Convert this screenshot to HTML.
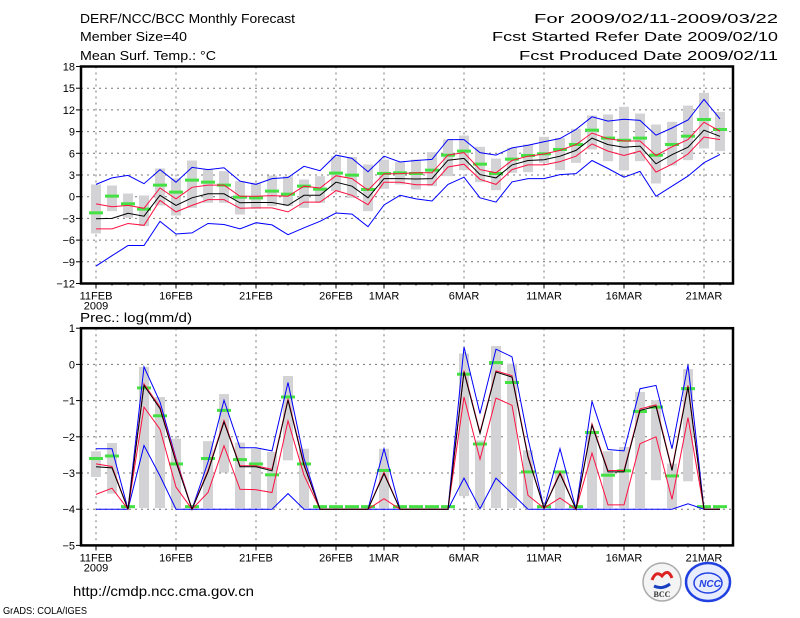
<!DOCTYPE html>
<html><head><meta charset="utf-8"><style>
html,body{margin:0;padding:0;background:#fff;}
svg{display:block;font-family:"Liberation Sans",sans-serif;}
</style></head><body>
<svg id="chart" width="800" height="618" viewBox="0 0 800 618" xmlns="http://www.w3.org/2000/svg">
<g font-size="13" fill="#000">
<text x="80" y="23" textLength="215" lengthAdjust="spacingAndGlyphs">DERF/NCC/BCC Monthly Forecast</text>
<text x="80" y="41" textLength="107" lengthAdjust="spacingAndGlyphs">Member Size=40</text>
<text x="80" y="60" textLength="136" lengthAdjust="spacingAndGlyphs">Mean Surf. Temp.: °C</text>
<text x="778" y="23" text-anchor="end" textLength="244" lengthAdjust="spacingAndGlyphs">For 2009/02/11-2009/03/22</text>
<text x="778" y="41" text-anchor="end" textLength="286" lengthAdjust="spacingAndGlyphs">Fcst Started Refer Date 2009/02/10</text>
<text x="778" y="60" text-anchor="end" textLength="259" lengthAdjust="spacingAndGlyphs">Fcst Produced Date 2009/02/11</text>
<text x="80" y="322" textLength="112" lengthAdjust="spacingAndGlyphs">Prec.: log(mm/d)</text>
<text x="73" y="596" font-size="14" textLength="181" lengthAdjust="spacingAndGlyphs">http://cmdp.ncc.cma.gov.cn</text>
<text x="3" y="614" font-size="10" textLength="84" lengthAdjust="spacingAndGlyphs">GrADS: COLA/IGES</text>
</g>
<g>
<circle cx="662" cy="582" r="19" fill="#f4f4f4" stroke="#aaa" stroke-width="1.5"/>
<path d="M652 580 q4 -10 10 -4 q6 -8 10 2" fill="none" stroke="#d22" stroke-width="3"/>
<path d="M654 586 q8 4 16 -2" fill="none" stroke="#1840c0" stroke-width="3"/>
<text x="662" y="597" font-size="8" font-weight="bold" text-anchor="middle" fill="#333" font-family="Liberation Serif,serif">BCC</text>
</g>
<g>
<ellipse cx="708" cy="582" rx="22" ry="19" fill="#e8ecff" stroke="#2040e0" stroke-width="2.5"/>
<ellipse cx="708" cy="583" rx="14" ry="10" fill="none" stroke="#2040e0" stroke-width="1.5"/>
<text x="710" y="587" font-size="10" font-weight="bold" text-anchor="middle" fill="#2040e0" font-style="italic">NCC</text>
</g>
</svg>
<script>
// ----- data (day index 0 = 11FEB 2009) -----
const dayLabels = ["11FEB","16FEB","21FEB","26FEB","1MAR","6MAR","11MAR","16MAR","21MAR"];
const dayLabelIdx = [0,5,10,15,18,23,28,33,38];
const tempTicks = [18,15,12,9,6,3,0,-3,-6,-9,-12];
const precTicks = [1,0,-1,-2,-3,-4,-5];

const tMean = [-3.05,-3.0,-2.3,-2.7,0.2,-1.2,-0.15,0.4,0.4,-0.85,-0.8,-0.8,-1.2,0.2,0.2,2.0,1.45,-0.15,2.5,2.5,2.45,2.5,5.05,5.3,3.05,2.6,4.4,5.0,5.1,5.6,6.4,8.1,7.2,6.85,7.0,4.55,5.8,6.85,9.2,8.35];
const tRedHi = [-1.0,-1.4,-1.2,-1.6,1.2,-0.3,1.3,1.6,1.6,0.05,0.05,0.15,0.05,1.45,1.2,2.9,2.5,0.9,3.15,3.2,3.3,3.3,5.75,6.1,3.75,3.3,5.0,5.6,5.9,6.4,7.2,8.8,8.0,7.7,7.7,5.7,6.9,7.9,10.3,9.05];
const tRedLo = [-4.45,-4.45,-3.7,-3.95,-0.5,-2.1,-1.2,-0.4,-0.4,-1.6,-1.55,-1.55,-2.1,-0.75,-0.75,0.85,0.2,-1.1,2.0,2.0,1.65,1.65,4.1,4.5,2.4,1.7,3.75,4.4,4.4,4.85,5.6,7.3,6.3,5.7,6.3,3.4,4.5,5.9,8.25,7.9];
const tBlueHi = [1.7,2.6,2.95,1.8,3.75,2.0,4.05,3.75,4.0,2.15,1.7,2.5,2.65,4.2,3.6,5.75,5.3,3.45,5.6,4.8,5.0,5.15,7.9,7.9,6.1,5.75,6.75,7.1,7.6,8.05,9.3,11.05,10.45,10.7,10.55,8.5,9.5,10.6,13.45,10.75];
const tBlueLo = [-9.6,-8.15,-6.75,-6.75,-3.4,-5.15,-5.0,-3.7,-3.85,-4.45,-3.6,-3.9,-5.25,-4.3,-3.4,-2.25,-2.4,-4.15,-1.15,0.2,-0.3,-0.6,1.7,2.7,-0.15,-0.75,2.05,2.5,2.5,3.05,3.2,5.0,3.9,2.7,3.5,0.05,1.45,2.85,4.7,5.85];
const tBoxHi = [1.69,1.55,0.44,0.17,3.9,2.52,5.0,3.85,3.53,2.15,1.92,2.93,2.84,2.38,2.84,5.6,5.5,4.45,5.14,4.78,5.14,6.16,7.91,8.46,6.9,5.28,6.76,7.22,8.28,8.14,9.38,11.23,11.37,12.43,11.5,9.98,10.35,12.6,14.36,11.73];
const tBoxLo = [-5.09,-2.0,-2.92,-4.07,-1.21,-2.6,-1.54,-0.85,-0.85,-2.46,-1.68,-1.31,-1.31,-1.54,-0.85,0.77,-0.16,-2.0,1.09,1.69,1.0,1.46,2.84,3.67,2.01,0.9,3.3,3.39,4.68,3.67,4.68,6.53,4.91,3.63,4.91,1.83,4.31,5.05,6.66,6.3];
const tGreen = [-2.23,0.08,-0.98,-1.72,1.6,0.63,2.29,2.01,1.6,-0.06,-0.16,0.77,0.35,1.46,1.04,3.26,2.98,1.0,3.21,3.3,3.21,3.67,5.74,6.3,4.5,3.21,5.19,5.7,5.93,6.53,7.22,9.2,8.1,7.8,8.1,5.74,7.22,8.37,10.67,9.29];

const pMean = [-2.83,-2.86,-4,-0.58,-1.22,-2.70,-4,-2.97,-1.59,-2.83,-2.83,-2.94,-0.99,-2.79,-4,-4,-4,-4,-3.02,-4,-4,-4,-4,-0.21,-1.91,-0.21,-0.35,-2.56,-3.97,-3.02,-4,-1.68,-2.97,-2.97,-1.27,-1.16,-2.93,-0.62,-4,-4];
const pRedHi = [-2.75,-2.82,-4,-0.54,-1.18,-2.62,-4,-2.93,-1.55,-2.80,-2.80,-2.90,-0.95,-2.75,-4,-4,-4,-4,-2.98,-4,-4,-4,-4,-0.17,-1.87,-0.18,-0.31,-2.52,-3.97,-2.98,-4,-1.64,-2.93,-2.93,-1.23,-1.12,-2.89,-0.58,-4,-4];
const pRedLo = [-3.59,-3.42,-4,-1.18,-1.79,-3.39,-4,-3.54,-2.25,-3.45,-3.46,-3.54,-1.56,-3.06,-4,-4,-4,-4,-3.71,-4,-4,-4,-4,-0.90,-2.62,-0.93,-1.13,-3.62,-3.97,-3.69,-4,-2.45,-3.88,-3.88,-2.19,-2.00,-3.73,-1.47,-4,-4];
const pBlueHi = [-2.33,-2.33,-4,-0.07,-1.04,-2.60,-4,-2.70,-0.99,-2.30,-2.30,-2.39,-0.50,-2.60,-4,-4,-4,-4,-2.33,-4,-4,-4,-4,0.48,-1.36,0.42,0.21,-2.05,-3.97,-2.33,-4,-1.02,-2.35,-2.39,-0.67,-0.58,-2.33,-0.01,-4,-4];
const pBlueLo = [-4,-4,-4,-2.24,-3.08,-4,-4,-4,-4,-4,-4,-4,-3.57,-4,-4,-4,-4,-4,-4,-4,-4,-4,-4,-3.14,-3.99,-3.14,-3.57,-4,-4,-4,-4,-4,-4,-4,-4,-4,-4,-3.85,-4,-4];
const pBoxHi = [-2.40,-2.17,null,-0.07,-0.90,-2.05,null,-2.12,-0.82,-2.16,-2.33,-2.42,-0.32,-2.33,null,null,null,null,-2.33,null,null,null,null,0.30,-2.10,0.51,0.02,-2.37,null,-2.93,null,-1.85,-2.40,-2.28,-0.76,-0.99,-2.74,-0.13,null,null];
const pBoxLo = [-3.11,-3.57,null,-3.97,-3.97,-3.97,null,-3.97,-2.99,-3.97,-3.97,-3.97,-2.65,-3.97,null,null,null,null,-3.97,null,null,null,null,-3.64,-3.97,-3.97,-3.97,-3.97,null,-3.97,null,-3.97,-3.97,-3.97,-3.97,-3.20,-3.97,-3.23,null,null];
const pGreen = [-2.60,-2.53,-3.93,-0.65,-1.42,-2.75,-3.93,-2.60,-1.27,-2.63,-2.75,-3.05,-0.90,-2.75,-3.93,-3.93,-3.93,-3.93,-2.93,-3.93,-3.93,-3.93,-3.93,-0.27,-2.20,0.05,-0.50,-2.97,-3.93,-2.97,-3.93,-1.88,-3.06,-2.94,-1.30,-1.18,-3.08,-0.67,-3.93,-3.93];

const NS = "http://www.w3.org/2000/svg";
const svg = document.getElementById("chart");
const X0 = 81, X1 = 733;
function xDay(i){ return 96 + i*16; }
function mk(tag, attrs, parent){
  const e = document.createElementNS(NS, tag);
  for (const k in attrs) e.setAttribute(k, attrs[k]);
  parent.appendChild(e);
  return e;
}

function panel(name, top, bottom, vmax, vmin, ticks, series, showYear){
  const yv = v => top + (vmax - v) * (bottom - top) / (vmax - vmin);
  const g = mk("g", {}, svg);
  
  
  // grid
  ticks.forEach(t => {
    if (t === vmax || t === vmin) return;
    const l = mk("line", {x1:X0, x2:X1, y1:yv(t), y2:yv(t), stroke:"#777", "stroke-width":1, "stroke-dasharray":"2,4"}, g);
    
    
  });
  dayLabelIdx.forEach(i => {
    const l = mk("line", {x1:xDay(i), x2:xDay(i), y1:top, y2:bottom, stroke:"#777", "stroke-width":1, "stroke-dasharray":"2,4"}, g);
    
    
  });
  // boxes
  for (let i = 0; i < series.boxHi.length; i++){
    if (series.boxHi[i] === null) continue;
    const y1 = yv(series.boxHi[i]), y2 = yv(series.boxLo[i]);
    const r = mk("rect", {x:xDay(i)-5, y:y1, width:10, height:Math.max(1,y2-y1), fill:"#d3d3d6"}, g);
    
    
  }
  // green markers
  for (let i = 0; i < series.green.length; i++){
    const r = mk("rect", {x:xDay(i)-7, y:yv(series.green[i])-1.5, width:14, height:3, fill:"#44e044"}, g);
    
    
  }
  // lines
  const lines = [[series.blueLo,"#0000ff","blue-lower-line"],[series.blueHi,"#0000ff","blue-upper-line"],[series.redLo,"#ff1040","red-lower-line"],[series.redHi,"#ff1040","red-upper-line"],[series.mean,"#000000","ensemble-mean-line"]];
  lines.forEach(([arr, col, nm]) => {
    const pts = arr.map((v,i) => xDay(i)+","+yv(v).toFixed(1)).join(" ");
    const p = mk("polyline", {points:pts, fill:"none", stroke:col, "stroke-width":1}, g);
    
    
  });
  // frame
  const f = mk("rect", {x:X0, y:top, width:X1-X0, height:bottom-top, fill:"none", stroke:"#000", "stroke-width":2.5}, g);
  
  
  // y ticks
  ticks.forEach(t => {
    const l = mk("line", {x1:X0-5, x2:X0, y1:yv(t), y2:yv(t), stroke:"#000", "stroke-width":1}, g);
    
    
    const tx = mk("text", {x:X0-6, y:yv(t)+4, "text-anchor":"end", "font-size":11}, g);
    
    
    tx.textContent = String(t).replace("-", "\u2212");
  });
  // minor x ticks each day
  for (let i = 0; i < 40; i++){
    const l = mk("line", {x1:xDay(i), x2:xDay(i), y1:bottom, y2:bottom+(dayLabelIdx.includes(i)?5:2), stroke:"#000", "stroke-width":1}, g);
    
    
  }
  dayLabels.forEach((lab, k) => {
    const tx = mk("text", {x:xDay(dayLabelIdx[k]), y:bottom+16, "text-anchor":"middle", "font-size":11}, g);
    
    
    tx.textContent = lab;
  });
  if (showYear){
    const tx = mk("text", {x:xDay(0), y:bottom+26, "text-anchor":"middle", "font-size":11}, g);
    
    
    tx.textContent = "2009";
  }
}

panel("temperature-panel", 66.5, 283.5, 18, -12, tempTicks,
  {mean:tMean, redHi:tRedHi, redLo:tRedLo, blueHi:tBlueHi, blueLo:tBlueLo, boxHi:tBoxHi, boxLo:tBoxLo, green:tGreen}, true);
panel("precipitation-panel", 328.2, 545.4, 1, -5, precTicks,
  {mean:pMean, redHi:pRedHi, redLo:pRedLo, blueHi:pBlueHi, blueLo:pBlueLo, boxHi:pBoxHi, boxLo:pBoxLo, green:pGreen}, true);
</script>
</body></html>
